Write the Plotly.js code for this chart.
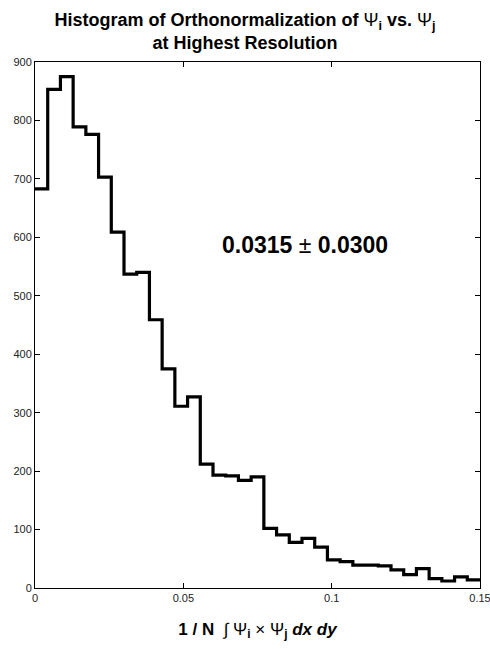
<!DOCTYPE html>
<html>
<head>
<meta charset="utf-8">
<script src="https://cdn.plot.ly/plotly-3.0.1.min.js"></script>
<style>html,body{margin:0;padding:0;background:#fff;}#chart{width:490px;height:649px;}</style>
</head>
<body>
<div id="chart"></div>
<script>
// Histogram counts (35 equal bins over 0 .. 0.15)
const binStart = 0;
const binEnd = 0.15;
const counts = [683, 853, 875, 789, 776, 703, 609, 537, 540, 459, 375, 311, 327, 212,
                193, 192, 184, 190, 102, 91, 78, 85, 70, 48, 45, 39, 39, 38, 31, 23,
                33, 16, 12, 19, 14];
const xTickVals = [0, 0.05, 0.1, 0.15];
const xTickText = ['0', '0.05', '0.1', '0.15'];
const yTickVals = [0, 100, 200, 300, 400, 500, 600, 700, 800, 900];
const statsLabel = '<b>0.0315 </b>±<b> 0.0300</b>';
const statsPos = {x: 0.091, y: 587};

const binWidth = (binEnd - binStart) / counts.length;
const xs = counts.map((c, i) => binStart + i * binWidth).concat([binEnd]);
const ys = counts.concat([counts[counts.length - 1]]);

const font = 'Liberation Sans, Arial, Helvetica, sans-serif';

const trace = {
  type: 'scatter', mode: 'lines', x: xs, y: ys,
  line: {shape: 'hv', color: '#000', width: 3.2},
  hoverinfo: 'skip', showlegend: false, cliponaxis: false
};

const layout = {
  width: 490, height: 649,
  margin: {l: 35, r: 10, t: 62, b: 61},
  paper_bgcolor: '#fff', plot_bgcolor: '#fff',
  font: {family: font, color: '#222'},
  title: {
    text: '<b>Histogram of Orthonormalization of </b>Ψ<sub><b>i</b></sub><b> vs. </b>Ψ<sub><b>j</b></sub><br><b>at Highest Resolution</b>',
    font: {family: font, size: 18, color: '#000'},
    x: 0.5, xanchor: 'center', yref: 'container', y: 0.96, yanchor: 'middle'
  },
  xaxis: {
    range: [binStart, binEnd], tickvals: xTickVals, ticktext: xTickText,
    ticks: 'inside', ticklen: 5, tickcolor: '#000', tickwidth: 1,
    showline: true, linecolor: '#000', linewidth: 1, mirror: 'allticks',
    showgrid: false, zeroline: false, ticklabeloverflow: 'allow',
    tickfont: {family: font, size: 11, color: '#222'},
    title: {
      text: '<b>1 / N  </b>∫ Ψ<sub><b>i</b></sub> × Ψ<sub><b>j</b></sub><b><i> dx dy</i></b>',
      font: {family: font, size: 17, color: '#000'}, standoff: 19
    }
  },
  yaxis: {
    range: [0, 900], tickvals: yTickVals,
    ticks: 'inside', ticklen: 5, tickcolor: '#000', tickwidth: 1,
    showline: true, linecolor: '#000', linewidth: 1, mirror: 'allticks',
    showgrid: false, zeroline: false, ticklabeloverflow: 'allow',
    tickfont: {family: font, size: 11, color: '#222'}
  },
  annotations: [{
    x: statsPos.x, y: statsPos.y, xref: 'x', yref: 'y',
    text: statsLabel, showarrow: false,
    font: {family: font, size: 23, color: '#000'}
  }]
};

Plotly.newPlot('chart', [trace], layout, {displayModeBar: false, staticPlot: true});
</script>
</body>
</html>
